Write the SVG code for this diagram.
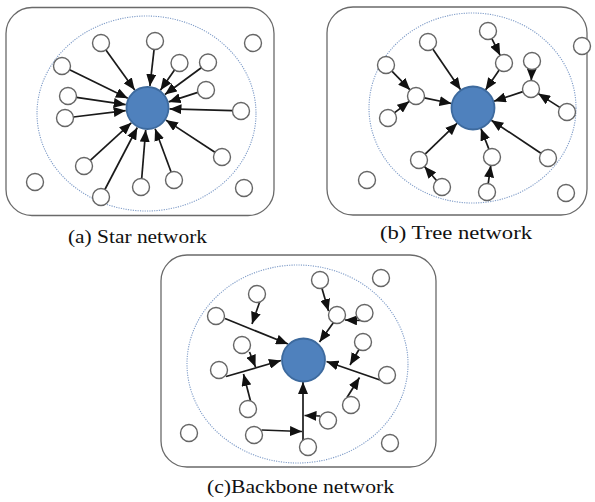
<svg xmlns="http://www.w3.org/2000/svg" width="595" height="502" viewBox="0 0 595 502">
  <style>
    .frame { fill: none; stroke: #6a6a6a; stroke-width: 1.3; }
    .range { fill: none; stroke: #7f9cc8; stroke-width: 1.1; stroke-dasharray: 1.2 1.2; }
    .node { fill: #ffffff; stroke: #666666; stroke-width: 1.4; }
    .hub { fill: #4f81bd; stroke: #3d6a9e; stroke-width: 1.8; }
    .link { stroke: #1a1a1a; stroke-width: 1.7; fill: none; marker-end: url(#arrow); }
    .label { font-family: "Liberation Serif", "Times New Roman", serif; font-size: 19px; fill: #111111; }
  </style>
  <defs>
    <marker id="arrow" markerUnits="userSpaceOnUse" markerWidth="12" markerHeight="10" refX="12" refY="5" orient="auto">
      <path d="M0,0 L12,5 L0,10 z" fill="#111111"/>
    </marker>
  </defs>

  <rect width="595" height="502" fill="#ffffff"/>

  <!-- panel frames and radio ranges -->
  <rect class="frame" x="6" y="7.5" width="268" height="208" rx="26"/>
  <ellipse class="range" cx="146.5" cy="113.5" rx="109.5" ry="97.5"/>
  <rect class="frame" x="327" y="7" width="260" height="208" rx="26"/>
  <ellipse class="range" cx="472.5" cy="108" rx="103.5" ry="95"/>
  <rect class="frame" x="161" y="255" width="275" height="212" rx="26"/>
  <ellipse class="range" cx="297.5" cy="364" rx="110.5" ry="99"/>

  <g id="connectors">
    <!-- (a) star: every node points at the hub -->
    <line class="link" x1="105.9" y1="49.9" x2="134.7" y2="90.1"/>
    <line class="link" x1="154.1" y1="49.4" x2="149.9" y2="86.1"/>
    <line class="link" x1="69.6" y1="69.7" x2="127.8" y2="98.3"/>
    <line class="link" x1="174.5" y1="69.9" x2="160.4" y2="90.2"/>
    <line class="link" x1="201.3" y1="67.7" x2="164.9" y2="94.5"/>
    <line class="link" x1="76.4" y1="97.3" x2="125.7" y2="104.7"/>
    <line class="link" x1="197.8" y1="92.4" x2="168.6" y2="101.9"/>
    <line class="link" x1="232.5" y1="110.6" x2="169.5" y2="108.9"/>
    <line class="link" x1="73.4" y1="117.0" x2="125.7" y2="110.6"/>
    <line class="link" x1="90.3" y1="160.3" x2="131.3" y2="122.8"/>
    <line class="link" x1="214.9" y1="152.3" x2="165.9" y2="120.1"/>
    <line class="link" x1="141.7" y1="178.5" x2="145.7" y2="129.9"/>
    <line class="link" x1="171.1" y1="172.0" x2="155.1" y2="128.7"/>
    <line class="link" x1="104.9" y1="189.5" x2="137.3" y2="127.5"/>

    <!-- (b) tree -->
    <line class="link" x1="491.8" y1="38.6" x2="500.2" y2="55.4"/>
    <line class="link" x1="432.8" y1="49.0" x2="460.6" y2="89.8"/>
    <line class="link" x1="391.9" y1="71.1" x2="410.1" y2="89.9"/>
    <line class="link" x1="394.7" y1="112.7" x2="409.3" y2="101.3"/>
    <line class="link" x1="424.3" y1="97.8" x2="451.5" y2="103.5"/>
    <line class="link" x1="499.2" y1="70.0" x2="485.5" y2="89.9"/>
    <line class="link" x1="531.7" y1="69.5" x2="531.3" y2="80.5"/>
    <line class="link" x1="559.8" y1="107.4" x2="538.2" y2="93.6"/>
    <line class="link" x1="522.9" y1="91.6" x2="493.9" y2="101.2"/>
    <line class="link" x1="540.9" y1="153.3" x2="491.3" y2="120.2"/>
    <line class="link" x1="425.1" y1="154.1" x2="457.2" y2="123.2"/>
    <line class="link" x1="436.5" y1="180.5" x2="424.5" y2="166.5"/>
    <line class="link" x1="488.9" y1="149.1" x2="480.9" y2="128.5"/>
    <line class="link" x1="488.2" y1="183.6" x2="490.8" y2="165.4"/>

    <!-- (c) backbone: branches feed into trunk lines -->
    <line class="link" x1="225" y1="318.5" x2="288" y2="344"/>
    <line class="link" x1="260" y1="301" x2="252" y2="324"/>
    <line class="link" x1="226" y1="376.5" x2="281" y2="360.5"/>
    <line class="link" x1="249.5" y1="352" x2="255.5" y2="367"/>
    <line class="link" x1="250.5" y1="401" x2="243.5" y2="374"/>
    <line class="link" x1="303" y1="440" x2="303" y2="382"/>
    <line class="link" x1="320" y1="416" x2="304.5" y2="415.5"/>
    <line class="link" x1="261.5" y1="430" x2="302" y2="431.5"/>
    <line class="link" x1="322" y1="288.5" x2="328.5" y2="311"/>
    <line class="link" x1="361" y1="320.5" x2="345" y2="320"/>
    <line class="link" x1="333.5" y1="322.5" x2="319.5" y2="342"/>
    <line class="link" x1="380" y1="380" x2="326.5" y2="361.5"/>
    <line class="link" x1="359" y1="349.5" x2="350" y2="365"/>
    <line class="link" x1="347" y1="397.5" x2="359.5" y2="377.5"/>
  </g>

  <!-- (a) star network nodes -->
  <g id="a-hub"><circle class="hub" cx="147.5" cy="108" r="21"/></g>
  <g id="a-n1"><circle class="node" cx="101" cy="43" r="8.5"/></g>
  <g id="a-n2"><circle class="node" cx="155" cy="41" r="8.5"/></g>
  <g id="a-n3"><circle class="node" cx="253" cy="43" r="8.5"/></g>
  <g id="a-n4"><circle class="node" cx="62" cy="66" r="8.5"/></g>
  <g id="a-n5"><circle class="node" cx="179.5" cy="63" r="8.5"/></g>
  <g id="a-n6"><circle class="node" cx="208" cy="62.5" r="8.5"/></g>
  <g id="a-n7"><circle class="node" cx="68" cy="96" r="8.5"/></g>
  <g id="a-n8"><circle class="node" cx="206" cy="90" r="8.5"/></g>
  <g id="a-n9"><circle class="node" cx="241" cy="111" r="8.5"/></g>
  <g id="a-n10"><circle class="node" cx="65" cy="118" r="8.5"/></g>
  <g id="a-n11"><circle class="node" cx="84" cy="166" r="8.5"/></g>
  <g id="a-n12"><circle class="node" cx="222" cy="157" r="8.5"/></g>
  <g id="a-n13"><circle class="node" cx="35" cy="182" r="8.5"/></g>
  <g id="a-n14"><circle class="node" cx="141" cy="187" r="8.5"/></g>
  <g id="a-n15"><circle class="node" cx="174" cy="180" r="8.5"/></g>
  <g id="a-n16"><circle class="node" cx="101" cy="197" r="8.5"/></g>
  <g id="a-n17"><circle class="node" cx="244" cy="188" r="8.5"/></g>

  <!-- (b) tree network nodes -->
  <g id="b-hub"><circle class="hub" cx="473" cy="108" r="21.5"/></g>
  <g id="b-n1"><circle class="node" cx="488" cy="31" r="8.5"/></g>
  <g id="b-n2"><circle class="node" cx="428" cy="42" r="8.5"/></g>
  <g id="b-n3"><circle class="node" cx="582" cy="46" r="8.5"/></g>
  <g id="b-n4"><circle class="node" cx="386" cy="65" r="8.5"/></g>
  <g id="b-n5"><circle class="node" cx="504" cy="63" r="8.5"/></g>
  <g id="b-n6"><circle class="node" cx="532" cy="61" r="8.5"/></g>
  <g id="b-n7"><circle class="node" cx="416" cy="96" r="8.5"/></g>
  <g id="b-n8"><circle class="node" cx="531" cy="89" r="8.5"/></g>
  <g id="b-n9"><circle class="node" cx="388" cy="118" r="8.5"/></g>
  <g id="b-n10"><circle class="node" cx="567" cy="112" r="8.5"/></g>
  <g id="b-n11"><circle class="node" cx="419" cy="160" r="8.5"/></g>
  <g id="b-n12"><circle class="node" cx="492" cy="157" r="8.5"/></g>
  <g id="b-n13"><circle class="node" cx="548" cy="158" r="8.5"/></g>
  <g id="b-n14"><circle class="node" cx="367" cy="180" r="8.5"/></g>
  <g id="b-n15"><circle class="node" cx="442" cy="187" r="8.5"/></g>
  <g id="b-n16"><circle class="node" cx="487" cy="192" r="8.5"/></g>
  <g id="b-n17"><circle class="node" cx="566" cy="193" r="8.5"/></g>

  <!-- (c) backbone network nodes -->
  <g id="c-hub"><circle class="hub" cx="303.5" cy="360" r="21.5"/></g>
  <g id="c-n1"><circle class="node" cx="381" cy="278" r="8.5"/></g>
  <g id="c-n2"><circle class="node" cx="320" cy="280" r="8.5"/></g>
  <g id="c-n3"><circle class="node" cx="257" cy="294" r="8.5"/></g>
  <g id="c-n4"><circle class="node" cx="216" cy="316" r="8.5"/></g>
  <g id="c-n5"><circle class="node" cx="337" cy="315" r="8.5"/></g>
  <g id="c-n6"><circle class="node" cx="364.5" cy="313" r="8.5"/></g>
  <g id="c-n7"><circle class="node" cx="242" cy="345" r="8.5"/></g>
  <g id="c-n8"><circle class="node" cx="363" cy="342" r="8.5"/></g>
  <g id="c-n9"><circle class="node" cx="219" cy="370" r="8.5"/></g>
  <g id="c-n10"><circle class="node" cx="387" cy="375" r="8.5"/></g>
  <g id="c-n11"><circle class="node" cx="248" cy="409" r="8.5"/></g>
  <g id="c-n12"><circle class="node" cx="351" cy="405" r="8.5"/></g>
  <g id="c-n13"><circle class="node" cx="328" cy="420.5" r="8.5"/></g>
  <g id="c-n14"><circle class="node" cx="254" cy="435" r="8.5"/></g>
  <g id="c-n15"><circle class="node" cx="189" cy="433" r="8.5"/></g>
  <g id="c-n16"><circle class="node" cx="308" cy="447" r="8.5"/></g>
  <g id="c-n17"><circle class="node" cx="390" cy="443" r="8.5"/></g>

  <!-- captions -->
  <text class="label" font-family="Liberation Serif, serif" x="68" y="242.5" textLength="139" lengthAdjust="spacingAndGlyphs">(a) Star network</text>
  <text class="label" font-family="Liberation Serif, serif" x="380" y="238.5" textLength="152" lengthAdjust="spacingAndGlyphs">(b) Tree network</text>
  <text class="label" font-family="Liberation Serif, serif" x="207" y="493" textLength="187" lengthAdjust="spacingAndGlyphs">(c)Backbone network</text>
</svg>
